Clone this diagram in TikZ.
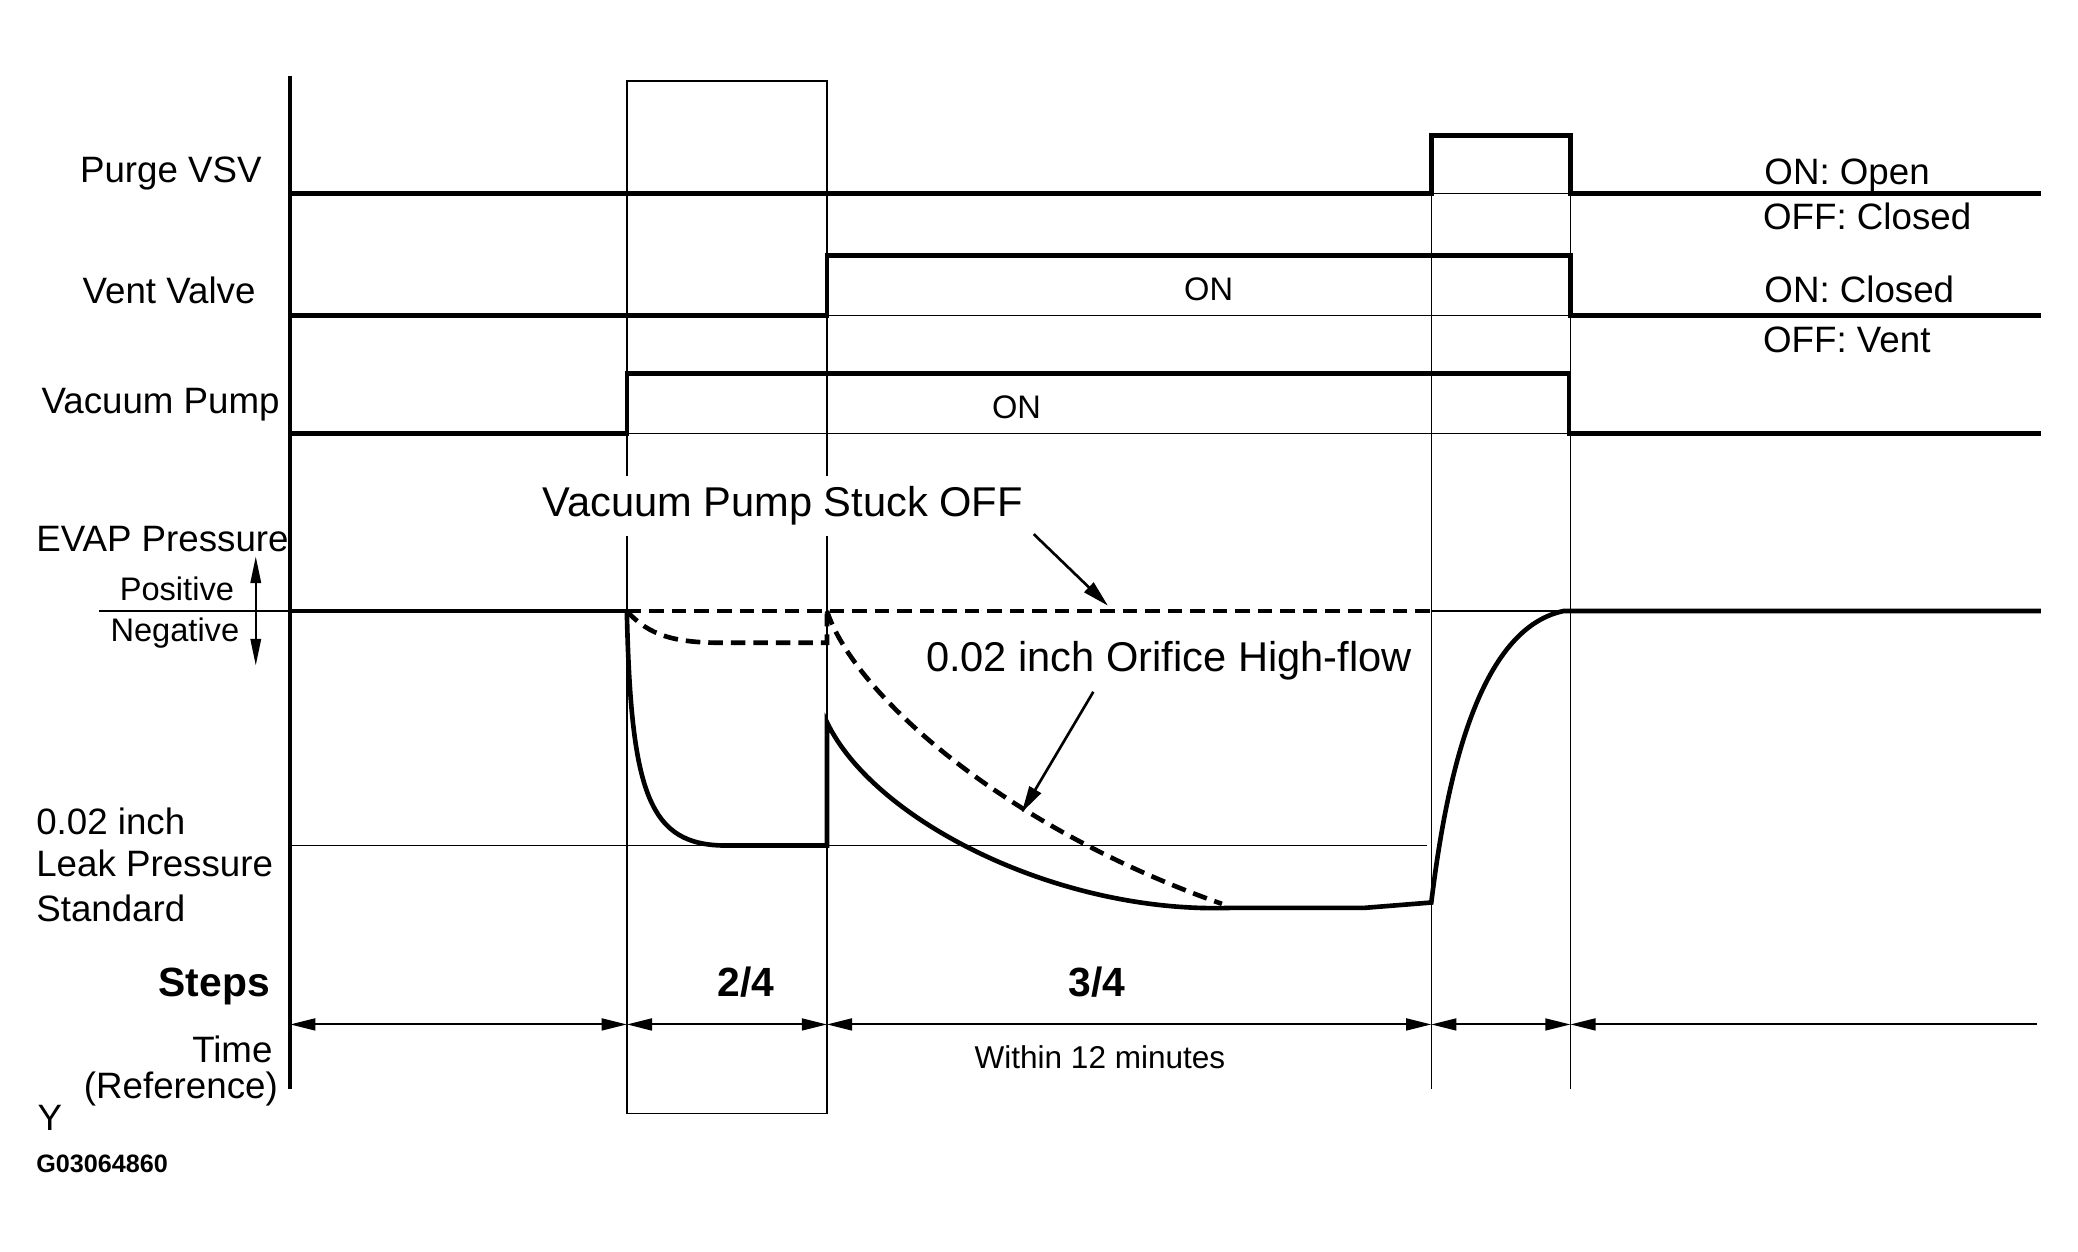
\documentclass[tikz,border=0pt]{standalone}
\usepackage{fontspec}
\setmainfont{Liberation Sans}
\usetikzlibrary{arrows.meta}
\begin{document}
\begin{tikzpicture}[x=0.5pt,y=-0.5pt,
 sig/.style={line width=1.75pt},
 fine/.style={line width=0.55pt},
 dsh/.style={line width=1.75pt,dash pattern=on 5.5pt off 3pt},
 txt/.style={inner sep=0pt,font=\fontsize{13.85}{16}\selectfont},
 sm/.style={inner sep=0pt,font=\fontsize{12.3}{14}\selectfont},
 tiny/.style={inner sep=0pt,font=\fontsize{11.9}{14}\selectfont},
 big/.style={inner sep=0pt,font=\fontsize{15.7}{18}\selectfont},
 bld/.style={inner sep=0pt,font=\fontsize{15.4}{18}\selectfont\bfseries},
 dimarr/.style={line width=0.75pt,{Triangle[length=9.5pt,width=4.5pt]}-{Triangle[length=9.5pt,width=4.5pt]}},
 dimone/.style={line width=0.75pt,{Triangle[length=9.5pt,width=4.5pt]}-},
 ann/.style={line width=1pt,-{Triangle[length=10pt,width=5pt]}},
 pm/.style={line width=0.6pt,{Triangle[length=10pt,width=4pt]}-{Triangle[length=10pt,width=4pt]}},
]
\useasboundingbox (0,0) rectangle (1568,944.7);

% thin grid lines
\draw[fine] (473,61) rectangle (624,840);
\draw[fine] (1080,146) -- (1080,822);
\draw[fine] (1185,146) -- (1185,822);
\draw[fine] (1080,146) -- (1185,146);
\draw[fine] (624,238) -- (1185,238);
\draw[fine] (473,327) -- (1185,327);
\draw[fine] (75,461) -- (219,461);
\draw[fine] (1080,461) -- (1185,461);
\draw[fine] (219,638) -- (1077,638);

% axis
\draw[line width=1.5pt] (219,57) -- (219,822);

% signals
\draw[sig] (219,146) -- (1080,146) -- (1080,102) -- (1185,102) -- (1185,146) -- (1540,146);
\draw[sig] (219,238) -- (624,238) -- (624,193) -- (1185,193) -- (1185,238) -- (1540,238);
\draw[sig] (219,327) -- (473,327) -- (473,282) -- (1184,282) -- (1184,327) -- (1540,327);

% EVAP pressure
\draw[sig] (219,461) -- (473,461);
\draw[sig] (473,461) .. controls (476,600) and (490,638) .. (548,638) -- (624,638) -- (624,545)
  .. controls (660,620) and (800,690) .. (930,685) -- (1030,685) -- (1080,681)
  .. controls (1090,600) and (1112,475) .. (1180,461) -- (1540,461);
\draw[dsh] (473,461) -- (1080,461);
\draw[dsh] (473,461) .. controls (490,480) and (510,485) .. (545,485) -- (624,485) -- (624,463);
\draw[dsh] (624,461) .. controls (645,525) and (760,625) .. (922,682);

% labels left
\node[txt,anchor=base west] (lpurge) at (60,138) {Purge VSV};
\node[txt,anchor=base west] (lvent) at (62,229) {Vent Valve};
\node[txt,anchor=base west] (lpump) at (31,312) {Vacuum Pump};
\node[txt,anchor=base west] (levap) at (27,416) {EVAP Pressure};
\node[sm,anchor=base west] (lpos) at (90,453) {Positive};
\node[sm,anchor=base west] (lneg) at (83,484) {Negative};
\coordinate (pmtop) at (193,420);
\coordinate (pmbot) at (193,502);
\draw[pm] (pmtop) -- (pmbot);
\node[txt,anchor=base west] (lleak1) at (27,630) {0.02 inch};
\node[txt,anchor=base west] (lleak2) at (27,661) {Leak Pressure};
\node[txt,anchor=base west] (lleak3) at (27,695) {Standard};
\node[bld,anchor=base east] (lsteps) at (204,752) {Steps};
\node[txt,anchor=base east] (ltime) at (206,802) {Time};
\node[txt,anchor=base east] (lref) at (210,829) {(Reference)};
\node[txt,anchor=base west] (ly) at (28,853) {Y};
\node[inner sep=0pt,font=\fontsize{9.5}{11}\selectfont\bfseries,anchor=base west] (lcode) at (27,885) {G03064860};

% labels right
\node[txt,anchor=base west] (ron1) at (1331,139.5) {ON: Open};
\node[txt,anchor=base west] (roff1) at (1330,173) {OFF: Closed};
\node[txt,anchor=base west] (ron2) at (1331,228.5) {ON: Closed};
\node[txt,anchor=base west] (roff2) at (1330,266) {OFF: Vent};

% ON labels
\node[sm,anchor=base] (onvent) at (912,227) {ON};
\node[sm,anchor=base] (onpump) at (767,316) {ON};

% annotations
\node[big,anchor=base,fill=white,inner xsep=2pt,inner ysep=4pt] (stuck) at (590.5,390) {Vacuum Pump Stuck OFF};
\node[big,anchor=base] (orif) at (882,507) {0.02 inch Orifice High-flow};
\coordinate (s0) at (780,403);
\coordinate (s1) at (836,457);
\draw[ann] (s0) -- (s1);
\coordinate (o0) at (825,522);
\coordinate (o1) at (771,613);
\draw[ann] (o0) -- (o1);

% steps
\node[bld,anchor=base west] (st2) at (541,752) {2/4};
\node[bld,anchor=base west] (st3) at (806,752) {3/4};
\coordinate (d0) at (219,773);
\coordinate (d1) at (473,773);
\coordinate (d2) at (624,773);
\coordinate (d3) at (1080,773);
\coordinate (d4) at (1185,773);
\coordinate (d5) at (1537,773);
\draw[dimarr] (d0) -- (d1);
\draw[dimarr] (d1) -- (d2);
\draw[dimarr] (d2) -- (d3);
\draw[dimarr] (d3) -- (d4);
\draw[dimone] (d4) -- (d5);
\node[tiny,anchor=base] (within) at (830,806) {Within 12 minutes};
\end{tikzpicture}
\end{document}
